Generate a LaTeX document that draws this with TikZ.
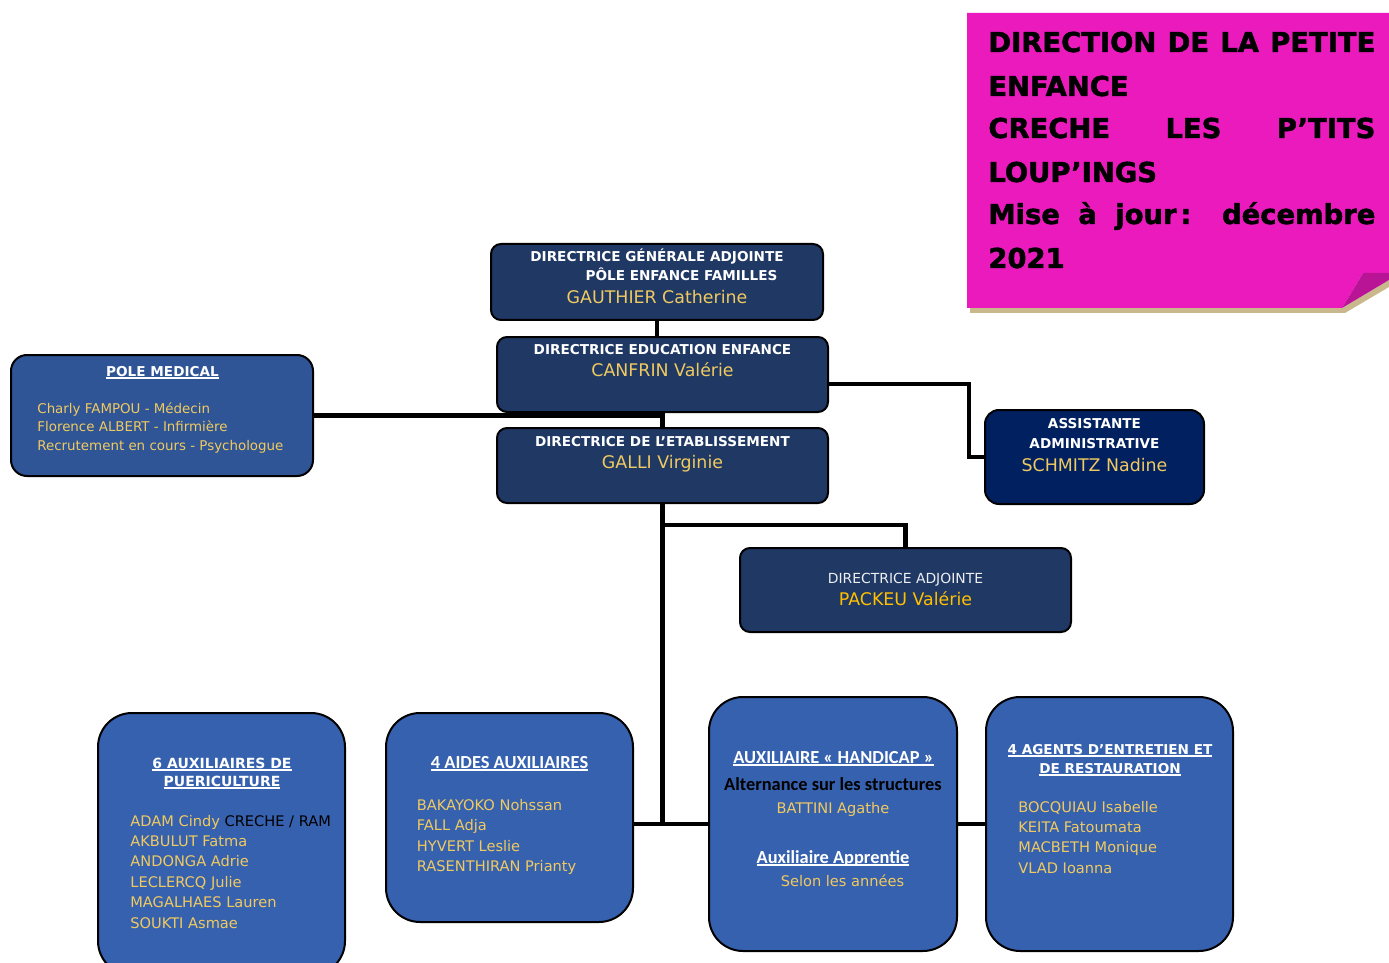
\documentclass[tikz,border=0pt]{standalone}
\usepackage{fontspec}
\setmainfont{DejaVu Sans}
\newfontfamily\calibfont{Carlito}
\newfontfamily\heavyfont[BoldFeatures={FakeBold=1.6}]{DejaVu Sans}
\usetikzlibrary{calc}

\definecolor{navy}{RGB}{31,56,100}
\definecolor{deepnavy}{RGB}{0,32,96}
\definecolor{medblue}{RGB}{47,85,151}
\definecolor{teamblue}{RGB}{54,97,175}
\definecolor{gold}{RGB}{240,202,96}
\definecolor{amber}{RGB}{255,192,0}
\definecolor{notepink}{RGB}{234,26,189}
\definecolor{notefold}{RGB}{185,20,150}
\definecolor{noteshadow}{RGB}{200,184,140}

\newcommand\hdrfont{\fontsize{6.8}{8}\selectfont\bfseries}
\newcommand\namefont{\fontsize{8.7}{10}\selectfont}
\newcommand\listfont{\fontsize{7.3}{9}\selectfont}
\newcommand\medfont{\fontsize{6.7}{8}\selectfont}
\newcommand\calibhdr{\fontsize{9.2}{11}\selectfont\calibfont\bfseries}
\newcommand\undl[1]{\setbox0\hbox{#1}\rlap{\rule[-1.5pt]{\wd0}{0.8pt}}\box0}

\tikzset{
  box/.style={draw=black, line width=1pt, rounded corners=5pt, inner sep=0pt},
  link/.style={draw=black, line width=2.2pt},
  txt/.style={anchor=base, inner sep=0pt},
  txtl/.style={anchor=base west, inner sep=0pt},
  hdr/.style={txt, text=white, font=\hdrfont},
  who/.style={txt, text=gold, font=\namefont},
  titleline/.style={anchor=base west, inner sep=0pt, font=\fontsize{13.7}{16}\selectfont\heavyfont\bfseries}
}

\begin{document}
\begin{tikzpicture}[x=0.5pt,y=-0.5pt]
\useasboundingbox (0,0) rectangle (1389,963);

% title note
\fill[noteshadow] (970,308) -- (1342,308) -- (1389,280) -- (1389,287) -- (1345,313) -- (970,313) -- cycle;
\fill[notepink] (967,13) -- (1389,13) -- (1389,273) -- (1363,273) .. controls (1352,290) .. (1342,308) -- (967,308) -- cycle;
\fill[notefold] (1363,273) -- (1389,273) -- (1389,280) -- (1342,308) .. controls (1352,290) .. (1363,273) -- cycle;
\node[titleline] (t1) at (988,52) {\makebox[193.5pt][s]{DIRECTION DE LA PETITE}};
\node[titleline] (t2) at (988,96) {ENFANCE};
\node[titleline] (t3) at (988,138) {\makebox[193.5pt][s]{CRECHE LES P’TITS}};
\node[titleline] (t4) at (988,182) {LOUP’INGS};
\node[titleline] (t5) at (988,224) {\makebox[193.5pt][s]{Mise à jour\kern2pt: décembre}};
\node[titleline] (t6) at (988,268) {2021};

% boxes
\node[box, fill=navy, minimum width=166pt, minimum height=38pt] (gda) at (657,282) {};
\node[box, fill=navy, minimum width=165.5pt, minimum height=37.5pt] (dee) at (662.5,374.5) {};
\node[box, fill=navy, minimum width=165.5pt, minimum height=37.5pt] (dir) at (662.5,465.5) {};
\node[box, fill=medblue, rounded corners=8pt, minimum width=151pt, minimum height=60.5pt] (med) at (162,415.5) {};
\node[box, fill=deepnavy, rounded corners=7pt, minimum width=109.5pt, minimum height=47pt] (asst) at (1094.5,457) {};
\node[box, fill=navy, minimum width=165.5pt, minimum height=42pt] (adj) at (905.5,590) {};
\node[box, fill=teamblue, rounded corners=17pt, minimum width=123.5pt, minimum height=131pt] (aux) at (221.5,844) {};
\node[box, fill=teamblue, rounded corners=17pt, minimum width=123.5pt, minimum height=104.5pt] (aides) at (509.5,817.5) {};
\node[box, fill=teamblue, rounded corners=17pt, minimum width=124pt, minimum height=127pt] (hand) at (833,824) {};
\node[box, fill=teamblue, rounded corners=17pt, minimum width=123.5pt, minimum height=127pt] (agents) at (1109.5,824) {};

% links
\draw[link] (gda.south) -- (gda.south |- dee.north);
\draw[link] (dee.south) -- (dir.north);
\draw[link, line width=2.6pt] (med.east) -- (med.east -| dee.south);
\draw[link] ($(dee.east)+(0,9.5)$) -| ($(asst.west)+(-15,0)$) -- (asst.west);
\draw[link, line width=2.5pt] (dir.south) -- (dir.south |- hand.west);
\draw[link] ($(dir.south)+(0,21)$) -| (adj.north);
\draw[link] (aides.east |- hand.west) -- (hand.west);
\draw[link] (hand.east) -- (agents.west);

% texts of the direction
\node[hdr] (gda-t1) at (657,262) {DIRECTRICE GÉNÉRALE ADJOINTE};
\node[hdr] (gda-t2) at (681.5,281) {PÔLE ENFANCE FAMILLES};
\node[who] (gda-n) at (657,304) {GAUTHIER Catherine};
\node[hdr] (dee-t) at (662.5,355) {DIRECTRICE EDUCATION ENFANCE};
\node[who] (dee-n) at (662.5,377) {CANFRIN Valérie};
\node[hdr] (dir-t) at (662.5,446) {DIRECTRICE DE L’ETABLISSEMENT};
\node[who] (dir-n) at (662.5,468) {GALLI Virginie};
\node[hdr] (asst-t1) at (1094.5,428) {ASSISTANTE};
\node[hdr] (asst-t2) at (1094.5,448) {ADMINISTRATIVE};
\node[who] (asst-n) at (1094.5,471) {SCHMITZ Nadine};
\node[txt, text=white!92!navy, font=\fontsize{6.95}{8}\selectfont] (adj-t) at (905.5,583) {DIRECTRICE ADJOINTE};
\node[who, text=amber] (adj-n) at (905.5,605) {PACKEU Valérie};

% pole medical
\node[hdr] (med-t) at (162.5,376) {\undl{POLE MEDICAL}};
\node[txtl, text=gold, font=\medfont] (med-1) at (37,413) {Charly FAMPOU - Médecin};
\node[txtl, text=gold, font=\medfont] (med-2) at (37,431.5) {Florence ALBERT - Infirmière};
\node[txtl, text=gold, font=\medfont] (med-3) at (37,450) {Recrutement en cours - Psychologue};

% auxiliaires de puericulture
\node[hdr, font=\fontsize{7}{8}\selectfont\bfseries] (aux-t1) at (222,768) {\undl{6 AUXILIAIRES DE}};
\node[hdr, font=\fontsize{7}{8}\selectfont\bfseries] (aux-t2) at (222,786) {\undl{PUERICULTURE}};
\foreach \nm [count=\i from 0] in {{ADAM Cindy \textcolor{black}{CRECHE / RAM}}, AKBULUT Fatma, ANDONGA Adrie, LECLERCQ Julie, MAGALHAES Lauren, SOUKTI Asmae}
  \node[txtl, text=gold, font=\listfont] (aux-\i) at (130,826+20.4*\i) {\nm};

% aides auxiliaires
\node[txt, text=white, font=\calibhdr] (aides-t) at (509.5,768) {\undl{4 AIDES AUXILIAIRES}};
\foreach \nm [count=\i from 0] in {BAKAYOKO Nohssan, FALL Adja, HYVERT Leslie, RASENTHIRAN Prianty}
  \node[txtl, text=gold, font=\listfont] (aides-\i) at (416.5,810+20.6*\i) {\nm};

% auxiliaire handicap
\node[txt, text=white, font=\calibhdr] (hand-t1) at (833.5,763) {\undl{AUXILIAIRE « HANDICAP »}};
\node[txt, text=black, font=\calibhdr] (hand-t2) at (833,790) {Alternance sur les structures};
\node[txt, text=gold, font=\listfont] (hand-n) at (833,813) {BATTINI Agathe};
\node[txt, text=white, font=\calibhdr] (hand-t3) at (833,863) {\undl{Auxiliaire Apprentie}};
\node[txt, text=gold, font=\listfont] (hand-s) at (842.5,886) {Selon les années};

% agents
\node[hdr, font=\fontsize{6.8}{8}\selectfont\bfseries] (agents-t1) at (1110,754) {\undl{4 AGENTS D’ENTRETIEN ET}};
\node[hdr, font=\fontsize{6.8}{8}\selectfont\bfseries] (agents-t2) at (1110,773) {\undl{DE RESTAURATION}};
\foreach \nm [count=\i from 0] in {BOCQUIAU Isabelle, KEITA Fatoumata, MACBETH Monique, VLAD Ioanna}
  \node[txtl, text=gold, font=\listfont] (agents-\i) at (1018,812+20.4*\i) {\nm};
\end{tikzpicture}
\end{document}
